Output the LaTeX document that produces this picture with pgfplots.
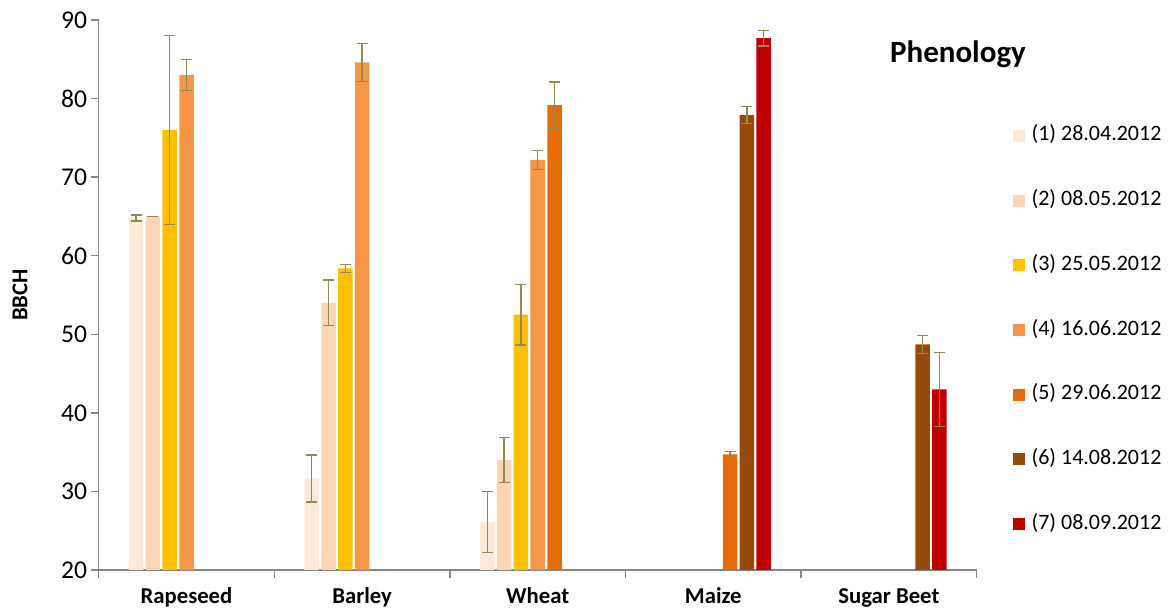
\documentclass[border=0pt]{standalone}
\usepackage{fontspec}
\setmainfont{Carlito}
\usepackage{pgfplots}
\usepackage{pgfplotstable}
\pgfplotsset{compat=1.18}
\definecolor{c1}{RGB}{253,233,217}
\definecolor{c2}{RGB}{252,213,181}
\definecolor{c3}{RGB}{255,192,0}
\definecolor{c4}{RGB}{247,150,70}
\definecolor{c5}{RGB}{228,108,10}
\definecolor{c6}{RGB}{152,72,7}
\definecolor{c7}{RGB}{192,0,0}
\definecolor{errc}{RGB}{148,138,84}
\definecolor{axisgray}{RGB}{134,134,134}

\pgfplotstableread{
x y e
0 64.8 0.4
1 31.65 3.0
2 26.1 3.9
}\sone
\pgfplotstableread{
x y e
0 65.0 0.02
1 54.0 2.9
2 34.0 2.9
}\stwo
\pgfplotstableread{
x y e
0 76.0 12.0
1 58.4 0.5
2 52.5 3.85
}\sthree
\pgfplotstableread{
x y e
0 83.0 2.0
1 84.6 2.4
2 72.2 1.2
}\sfour
\pgfplotstableread{
x y e
2 79.15 2.95
3 34.7 0.4
}\sfive
\pgfplotstableread{
x y e
3 77.9 1.07
4 48.7 1.15
}\ssix
\pgfplotstableread{
x y e
3 87.7 1.0
4 43.0 4.7
}\sseven

\pgfplotsset{
  mybar/.style 2 args={ybar, bar width=14.5pt, bar shift=#2, draw=none, fill=#1},
  errp/.style={forget plot, mark=none, draw=none,
    error bars/.cd, y dir=both, y explicit,
    error bar style={draw=errc, line width=1.4pt},
    error mark options={draw=errc, line width=1.4pt, mark size=5.5pt, rotate=90}},
}

\begin{document}
\begin{tikzpicture}[x=1pt,y=1pt]
\useasboundingbox (0,0) rectangle (1173,609);
\begin{axis}[
  at={(98.7pt,39pt)}, anchor=south west,
  width=878pt, height=550pt, scale only axis,
  clip=false,
  xmin=-0.5, xmax=4.5, ymin=20, ymax=90,
  ytick={20,30,...,90},
  xtick={-0.5,0.5,...,4.5}, xticklabels={},
  extra x ticks={0,1,2,3,4},
  extra x tick labels={Rapeseed,Barley,Wheat,Maize,Sugar Beet},
  extra x tick style={major tick length=0pt, tick label style={font=\fontsize{22.7}{27}\selectfont\bfseries, anchor=base, yshift=-34pt}},
  axis lines*=left,
  axis line style={-, draw=axisgray, line width=1.3pt},
  tick align=outside,
  major tick length=8pt,
  every tick/.style={axisgray, line width=1.3pt},
  /pgf/number format/assume math mode=true,
  yticklabel style={font=\fontsize{25.6}{30}\selectfont},
  ylabel={BBCH},
  ylabel style={font=\fontsize{22.7}{27}\selectfont\bfseries, at={(axis description cs:-0.0896,0.5)}, anchor=center},
  legend image code/.code={\fill[#1] (0pt,-6pt) rectangle (12pt,6pt); \path (18.7pt,0pt);},
  legend style={at={(axis description cs:1.0413,0.8073)}, anchor=north west,
    draw=none, fill=none, inner sep=0pt, outer sep=0pt, row sep=44.7pt,
    font=\fontsize{22}{26}\selectfont,
    nodes={inner sep=0pt, text height=15pt, text depth=5pt}},
  legend cell align=left,
]
\addplot[mybar={c1}{-50.4pt}] table[x=x,y=y] {\sone};
\addlegendentry{(1) 28.04.2012}
\addplot[mybar={c2}{-33.6pt}] table[x=x,y=y] {\stwo};
\addlegendentry{(2) 08.05.2012}
\addplot[mybar={c3}{-16.8pt}] table[x=x,y=y] {\sthree};
\addlegendentry{(3) 25.05.2012}
\addplot[mybar={c4}{0pt}] table[x=x,y=y] {\sfour};
\addlegendentry{(4) 16.06.2012}
\addplot[mybar={c5}{16.8pt}] table[x=x,y=y] {\sfive};
\addlegendentry{(5) 29.06.2012}
\addplot[mybar={c6}{33.6pt}] table[x=x,y=y] {\ssix};
\addlegendentry{(6) 14.08.2012}
\addplot[mybar={c7}{50.4pt}] table[x=x,y=y] {\sseven};
\addlegendentry{(7) 08.09.2012}
\addplot[errp] table[x expr=\thisrow{x}-0.2870, y=y, y error=e] {\sone};
\addplot[errp] table[x expr=\thisrow{x}-0.1913, y=y, y error=e] {\stwo};
\addplot[errp] table[x expr=\thisrow{x}-0.0957, y=y, y error=e] {\sthree};
\addplot[errp] table[x expr=\thisrow{x}, y=y, y error=e] {\sfour};
\addplot[errp] table[x expr=\thisrow{x}+0.0957, y=y, y error=e] {\sfive};
\addplot[errp] table[x expr=\thisrow{x}+0.1913, y=y, y error=e] {\ssix};
\addplot[errp] table[x expr=\thisrow{x}+0.2870, y=y, y error=e] {\sseven};
\node[font=\fontsize{31}{36}\selectfont\bfseries] at (rel axis cs:0.9787,0.938) {Phenology};
\end{axis}
\end{tikzpicture}
\end{document}
